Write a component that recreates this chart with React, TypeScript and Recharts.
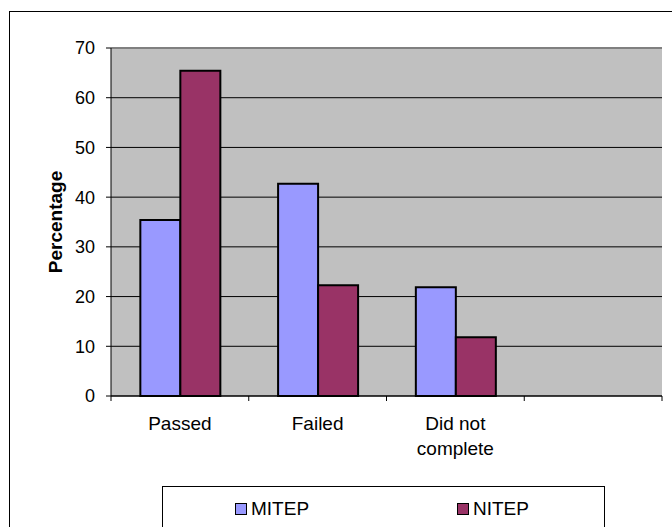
import React from 'react';
import { BarChart, Bar, XAxis, YAxis, CartesianGrid, Legend, ReferenceLine, Text } from 'recharts';

const categories = ['Passed', 'Failed', 'Did not complete', ''];
const mitepValues = [35.4, 42.7, 21.9, null];
const nitepValues = [65.4, 22.3, 11.8, null];
const yTicks = [0, 10, 20, 30, 40, 50, 60, 70];

const FONT = '"Liberation Sans", Arial, sans-serif';
const MITEP_COLOR = '#9999FF';
const NITEP_COLOR = '#993366';

const chartData = categories.map((name, i) => ({
  name,
  MITEP: mitepValues[i],
  NITEP: nitepValues[i],
}));

// Excel puts the x ticks between categories, so draw them at the band edges
const CategoryTick = (props: any) => {
  const { x, y, payload, index } = props;
  const half = payload?.offset ?? 68.9;
  const axisY = y - 8;
  return (
    <g>
      <line x1={x - half} y1={axisY} x2={x - half} y2={axisY + 5} stroke="#000" />
      {index === categories.length - 1 && (
        <line x1={x + half} y1={axisY} x2={x + half} y2={axisY + 5} stroke="#000" />
      )}
      <Text
        x={x}
        y={y + 13}
        width={100}
        textAnchor="middle"
        verticalAnchor="start"
        lineHeight={25}
        fontSize={19}
        fontFamily={FONT}
        fill="#000"
      >
        {payload.value}
      </Text>
    </g>
  );
};

const YLabel = (props: any) => {
  const { viewBox } = props;
  const x = viewBox.x + 55;
  const y = viewBox.y + viewBox.height / 2;
  return (
    <text
      x={x}
      y={y}
      transform={`rotate(-90 ${x} ${y})`}
      textAnchor="middle"
      dominantBaseline="central"
      fontSize={19}
      fontWeight="bold"
      fontFamily={FONT}
      fill="#000"
    >
      Percentage
    </text>
  );
};

const LegendBox = () => (
  <div
    style={{
      position: 'relative',
      width: 441,
      height: 60,
      border: '1px solid #000',
      background: '#fff',
      fontFamily: FONT,
      fontSize: 19,
    }}
  >
    {[
      { label: 'MITEP', color: MITEP_COLOR, left: 72 },
      { label: 'NITEP', color: NITEP_COLOR, left: 294 },
    ].map((item) => (
      <div
        key={item.label}
        style={{ position: 'absolute', left: item.left, top: 12, display: 'flex', alignItems: 'center', lineHeight: 1 }}
      >
        <span
          style={{
            display: 'inline-block',
            width: 10,
            height: 10,
            background: item.color,
            border: '1.5px solid #000',
            marginRight: 4,
          }}
        />
        <span>{item.label}</span>
      </div>
    ))}
  </div>
);

export default function App() {
  return (
    <div
      style={{
        position: 'absolute',
        left: 0,
        top: 0,
        width: 672,
        height: 527,
        overflow: 'hidden',
        background: '#fff',
      }}
    >
      <div
        style={{
          position: 'absolute',
          left: 9,
          top: 11,
          width: 700,
          height: 600,
          border: '1px solid #000',
        }}
      />
      <BarChart
        width={672}
        height={527}
        data={chartData}
        margin={{ top: 48, right: 10, left: 0, bottom: 0 }}
        barCategoryGap="21.3%"
        barGap={0}
      >
        <CartesianGrid fill="#C0C0C0" vertical={false} stroke="#000" horizontalFill={['#C0C0C0']} />
        <XAxis
          dataKey="name"
          height={131}
          tickLine={false}
          axisLine={{ stroke: '#000' }}
          tick={<CategoryTick />}
          interval={0}
        />
        <YAxis
          width={111}
          domain={[0, 70]}
          ticks={yTicks}
          interval={0}
          tickSize={5}
          tickMargin={11}
          axisLine={{ stroke: '#000' }}
          tickLine={{ stroke: '#000' }}
          tick={{ fontSize: 18, fontFamily: FONT, fill: '#000' }}
          label={{ value: 'Percentage', content: <YLabel /> }}
        />
        <YAxis
          yAxisId="frame"
          orientation="right"
          width={0}
          tick={false}
          tickLine={false}
          axisLine={{ stroke: '#808080', strokeWidth: 2 }}
        />
        <ReferenceLine y={70} stroke="#808080" strokeWidth={2} />
        <Bar dataKey="MITEP" fill={MITEP_COLOR} stroke="#000" strokeWidth={2} isAnimationActive={false} />
        <Bar dataKey="NITEP" fill={NITEP_COLOR} stroke="#000" strokeWidth={2} isAnimationActive={false} />
        <Legend
          layout="horizontal"
          verticalAlign="middle"
          align="center"
          content={<LegendBox />}
          wrapperStyle={{ left: 162, top: 486, width: 441, height: 60 }}
        />
      </BarChart>
    </div>
  );
}
